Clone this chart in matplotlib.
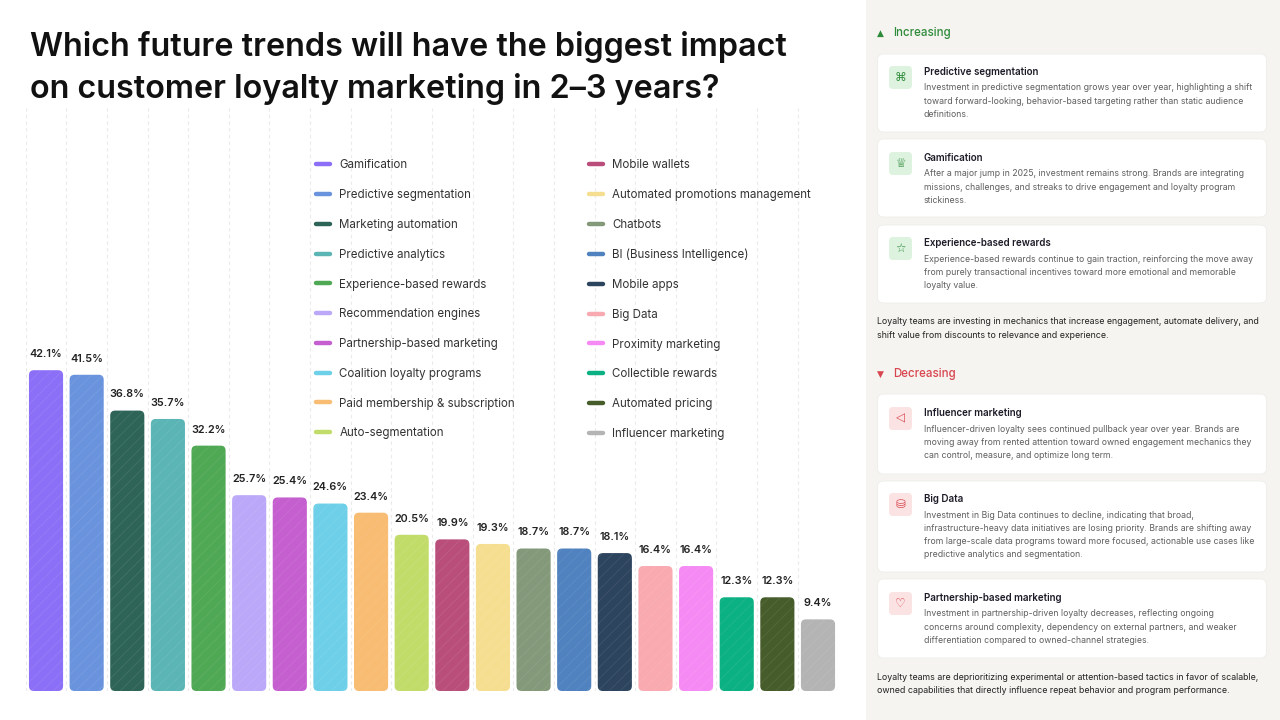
import numpy as np
import matplotlib
matplotlib.use("Agg")
import matplotlib.pyplot as plt
from matplotlib.patches import FancyBboxPatch, Rectangle
from matplotlib.lines import Line2D

# ---------------- data ----------------
categories = [
    "Gamification", "Predictive segmentation", "Marketing automation",
    "Predictive analytics", "Experience-based rewards", "Recommendation engines",
    "Partnership-based marketing", "Coalition loyalty programs",
    "Paid membership & subscription", "Auto-segmentation",
    "Mobile wallets", "Automated promotions management", "Chatbots",
    "BI (Business Intelligence)", "Mobile apps", "Big Data",
    "Proximity marketing", "Collectible rewards", "Automated pricing",
    "Influencer marketing",
]
values = [42.1, 41.5, 36.8, 35.7, 32.2, 25.7, 25.4, 24.6, 23.4, 20.5,
          19.9, 19.3, 18.7, 18.7, 18.1, 16.4, 16.4, 12.3, 12.3, 9.4]
colors = ["#8C6FF7", "#6A93DE", "#2E6457", "#5BB5B5", "#4FA853",
          "#BBA8F8", "#C55ECF", "#6DD0E8", "#F8BC72", "#C2DC6A",
          "#B94E7A", "#F6DE91", "#84997A", "#4F82BF", "#2D445E",
          "#F9A9B0", "#F68AF4", "#0BB083", "#465C2A", "#B4B4B4"]

title_lines = ["Which future trends will have the biggest impact",
               "on customer loyalty marketing in 2\u20133 years?"]

inc_header = "Increasing"
dec_header = "Decreasing"
inc_cards = [
    ("Predictive segmentation",
     ["Investment in predictive segmentation grows year over year, highlighting a shift",
      "toward forward-looking, behavior-based targeting rather than static audience",
      "definitions."]),
    ("Gamification",
     ["After a major jump in 2025, investment remains strong. Brands are integrating",
      "missions, challenges, and streaks to drive engagement and loyalty program",
      "stickiness."]),
    ("Experience-based rewards",
     ["Experience-based rewards continue to gain traction, reinforcing the move away",
      "from purely transactional incentives toward more emotional and memorable",
      "loyalty value."]),
]
inc_summary = ["Loyalty teams are investing in mechanics that increase engagement, automate delivery, and",
               "shift value from discounts to relevance and experience."]
dec_cards = [
    ("Influencer marketing",
     ["Influencer-driven loyalty sees continued pullback year over year. Brands are",
      "moving away from rented attention toward owned engagement mechanics they",
      "can control, measure, and optimize long term."]),
    ("Big Data",
     ["Investment in Big Data continues to decline, indicating that broad,",
      "infrastructure-heavy data initiatives are losing priority. Brands are shifting away",
      "from large-scale data programs toward more focused, actionable use cases like",
      "predictive analytics and segmentation."]),
    ("Partnership-based marketing",
     ["Investment in partnership-driven loyalty decreases, reflecting ongoing",
      "concerns around complexity, dependency on external partners, and weaker",
      "differentiation compared to owned-channel strategies."]),
]
dec_summary = ["Loyalty teams are deprioritizing experimental or attention-based tactics in favor of scalable,",
               "owned capabilities that directly influence repeat behavior and program performance."]

# ---------------- style ----------------
FONT = "Inter"
plt.rcParams["font.family"] = [FONT, "DejaVu Sans"]
plt.rcParams["hatch.linewidth"] = 0.6

W, H = 1280, 720
fig = plt.figure(figsize=(12.8, 7.2), dpi=100)
fig.patch.set_facecolor("white")

# overlay axes in pixel coordinates (for the side panel & title)
bg = fig.add_axes([0, 0, 1, 1], zorder=0)
bg.set_xlim(0, W)
bg.set_ylim(H, 0)
bg.axis("off")
bg.patch.set_alpha(0)

# ---------------- bar chart ----------------
px_per_unit = 7.62
ax_left, ax_right, ax_bottom, ax_top = 25.7, 838.3, 691, 108
ax = fig.add_axes([ax_left / W, 1 - ax_bottom / H,
                   (ax_right - ax_left) / W, (ax_bottom - ax_top) / H], zorder=1)
n = len(values)
x = np.arange(n)
ax.set_xlim(-0.5, n - 0.5)
ax.set_ylim(0, (ax_bottom - ax_top) / px_per_unit)
ax.axis("off")
ax.patch.set_alpha(0)

ax.vlines(np.arange(n + 1) - 0.5, 0, ax.get_ylim()[1], colors="#EAEAEA",
          linewidth=0.8, linestyles=(0, (3, 3)), zorder=0)

bars = ax.bar(x, values, width=0.84, color=colors, linewidth=0, zorder=2)
unit_x_px = (ax_right - ax_left) / n
aspect = unit_x_px / px_per_unit
for rect, c in zip(bars, colors):
    rx, ry = rect.get_x(), rect.get_y()
    rw, rh = rect.get_width(), rect.get_height()
    rect.remove()
    p = FancyBboxPatch((rx, ry), rw, rh,
                       boxstyle="round,pad=0,rounding_size=%.3f" % (5 / unit_x_px),
                       mutation_aspect=aspect, facecolor=c,
                       edgecolor=(1, 1, 1, 0.09), linewidth=0, hatch="///", zorder=2)
    ax.add_patch(p)

for xi, v in zip(x, values):
    ax.annotate(f"{v}%", (xi, v), xytext=(0, 8), textcoords="offset points",
                ha="center", va="bottom", fontsize=7.8, fontweight="semibold",
                color="#222222", zorder=3)

handles = [Line2D([0], [0], color=c, linewidth=3.2, solid_capstyle="round")
           for c in colors]
leg = ax.legend(handles, categories, ncol=2, frameon=False,
                loc="upper left",
                bbox_to_anchor=(316 / W, 1 - 159.5 / H), bbox_transform=fig.transFigure,
                fontsize=8.3, handlelength=1.25, handletextpad=0.78,
                labelspacing=1.54, columnspacing=6.4, borderpad=0, borderaxespad=0)
for t in leg.get_texts():
    t.set_color("#333333")

# ---------------- title ----------------
bg.text(30, 56, title_lines[0], fontsize=23.3, fontweight="semibold",
        color="#111111", va="baseline", ha="left")
bg.text(30, 98, title_lines[1], fontsize=23.3, fontweight="semibold",
        color="#111111", va="baseline", ha="left")

# ---------------- side panel ----------------
bg.add_patch(Rectangle((866, 0), W - 866, H, facecolor="#F5F4F0",
                       edgecolor="none", zorder=0))

GREEN, GREEN_BG = "#2E8B3A", "#DDF2DF"
RED, RED_BG = "#D9454F", "#FBE2E3"

def header(y, txt, col, tri):
    bg.text(877, y, tri, fontsize=6.5, color=col, va="center", ha="left",
            family=["DejaVu Sans"])
    bg.text(893, y, txt, fontsize=8.3, fontweight="medium", color=col,
            va="center", ha="left")

def card(y0, y1, title, body, icon, col, icol_bg, ty):
    bg.add_patch(FancyBboxPatch((877.5, y0), 389, y1 - y0,
                                boxstyle="round,pad=0,rounding_size=6",
                                facecolor="white", edgecolor="#EEEDE9",
                                linewidth=0.6, zorder=1))
    bg.add_patch(FancyBboxPatch((889, ty - 6), 23, 23,
                                boxstyle="round,pad=0,rounding_size=4",
                                facecolor=icol_bg, edgecolor="none", zorder=2))
    bg.text(900.5, ty + 5.5, icon, fontsize=8.5, color=col, ha="center",
            va="center", family=["DejaVu Sans"], zorder=3)
    bg.text(924, ty, title, fontsize=7.0, fontweight="semibold",
            color="#1C1C28", va="center", ha="left", zorder=3)
    for k, line in enumerate(body):
        bg.text(924, ty + 16 + 13.3 * k, line, fontsize=6.25,
                color="#5E5E5E", va="center", ha="left", zorder=3)

header(33, inc_header, GREEN, "\u25B2")
inc_geo = [(54, 132, 72), (139, 217, 158), (225, 303, 243)]
inc_icons = ["\u2318", "\u2655", "\u2606"]
for (y0, y1, ty), (tt, body), ic in zip(inc_geo, inc_cards, inc_icons):
    card(y0, y1, tt, body, ic, GREEN, GREEN_BG, ty)
for k, line in enumerate(inc_summary):
    bg.text(877, 322 + 13.3 * k, line, fontsize=6.35, color="#222222",
            va="center", ha="left")

header(374, dec_header, RED, "\u25BC")
dec_geo = [(394, 474, 413), (481, 572, 499), (579, 658, 598)]
dec_icons = ["\u25C1", "\u26C1", "\u2661"]
for (y0, y1, ty), (tt, body), ic in zip(dec_geo, dec_cards, dec_icons):
    card(y0, y1, tt, body, ic, RED, RED_BG, ty)
for k, line in enumerate(dec_summary):
    bg.text(877, 677 + 13.5 * k, line, fontsize=6.35, color="#222222",
            va="center", ha="left")

fig.savefig("out.png", dpi=100, facecolor="white")
